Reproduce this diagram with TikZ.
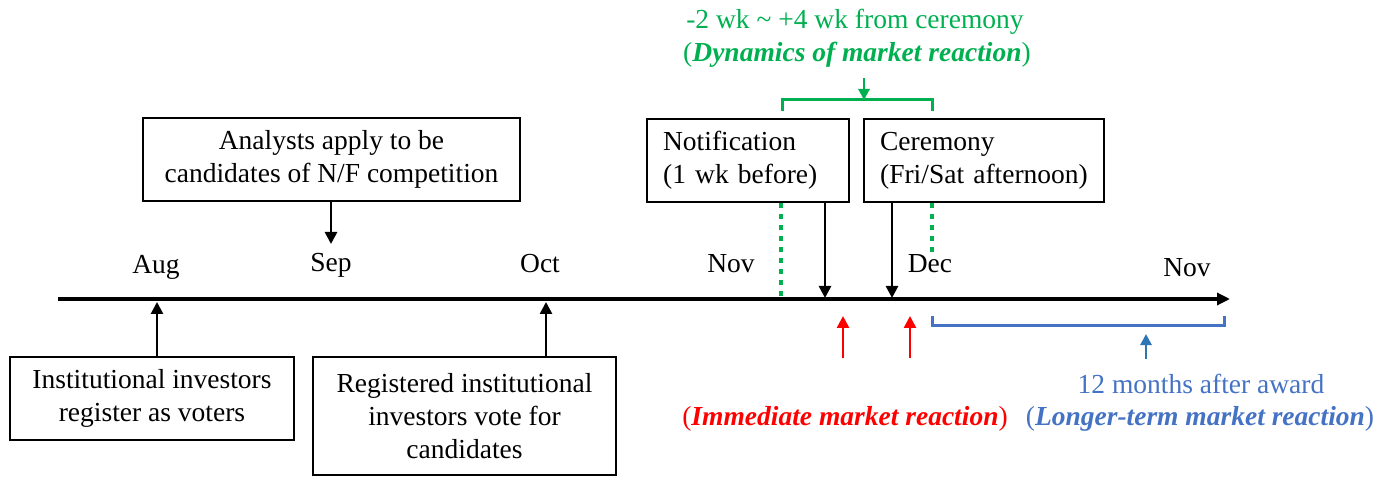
\documentclass[tikz,border=0pt]{standalone}
\usepackage{fontspec}
\setmainfont{Liberation Serif}
\newfontfamily\tnr{Liberation Serif}
\usetikzlibrary{arrows.meta}
\definecolor{mygreen}{RGB}{0,176,80}
\definecolor{myblue}{RGB}{68,114,196}
\definecolor{myarrowblue}{RGB}{46,117,182}
\definecolor{myred}{RGB}{255,0,0}
\begin{document}
\begin{tikzpicture}[x=1pt,y=-1pt,
  every node/.style={font=\tnr\fontsize{27.5}{33}\selectfont, inner sep=0pt},
  box/.style={draw, line width=2.2pt, align=center},
  lbox/.style={draw, line width=2.2pt, align=left, inner xsep=16pt, inner ysep=0pt, anchor=north west, minimum height=83pt},
  arr/.style={line width=2.6pt, -{Triangle[length=12pt,width=12pt]}},
  garr/.style={line width=2.6pt, mygreen, -{Triangle[length=11pt,width=11pt]}},
  rarr/.style={line width=2.6pt, myred, -{Triangle[length=12pt,width=12pt]}},
  barr/.style={line width=2.6pt, myarrowblue, -{Triangle[length=11pt,width=11pt]}},
  gdot/.style={line width=4.5pt, mygreen, dash pattern=on 5pt off 6pt},
  month/.style={anchor=base},
]
\useasboundingbox (0,0) rectangle (1395,478);

% axis
\coordinate (axL) at (58,299);
\coordinate (axR) at (1230,299);
\draw[line width=3.2pt, -{Triangle[length=13pt,width=12pt]}] (axL) -- (axR);

% month labels
\node[month] (mAug) at (156,274) {Aug};
\node[month] (mSep) at (331,272) {Sep};
\node[month] (mOct) at (540,273) {Oct};
\node[month] (mNov) at (731,273) {Nov};
\node[month] (mDec) at (930,273) {Dec};
\node[month] (mNov2) at (1187,277) {Nov};

% top boxes
\node[box, minimum width=377pt, minimum height=83pt] (analysts) at (331.5,159.5)
  {Analysts apply to be\\candidates of N/F competition};
\node[lbox, text width=170pt] (notif) at (646,118) {Notification\\(1 wk before)};
\node[lbox, text width=208pt] (cere) at (863,118) {Ceremony\\(Fri/Sat afternoon)};

% bottom boxes
\node[box, minimum width=284pt, minimum height=83pt] (reg) at (152,398.5)
  {Institutional investors\\register as voters};
\node[box, minimum width=303pt, minimum height=118pt] (vote) at (464.5,416)
  {Registered institutional\\investors vote for\\candidates};

% arrow targets
\coordinate (tSep) at (331,244);
\coordinate (tAug) at (157,302);
\coordinate (tOct) at (546,302);
\coordinate (tNotif) at (825,298);
\coordinate (tCere) at (892,298);

\draw[arr] (analysts.south -| tSep) -- (tSep);
\draw[arr] (reg.north -| tAug) -- (tAug);
\draw[arr] (vote.north -| tOct) -- (tOct);
\draw[arr] (notif.south -| tNotif) -- (tNotif);
\draw[arr] (cere.south -| tCere) -- (tCere);

% green dotted lines and bracket
\coordinate (gL) at (781,299);
\coordinate (gR) at (932,253);
\draw[gdot] (notif.south -| gL) -- (gL);
\draw[gdot] (cere.south -| gR) -- (gR);
\coordinate (bL) at (782,111);
\coordinate (bR) at (932,111);
\coordinate (bTop) at (857,100);
\draw[line width=3pt, mygreen] (bL) -- (bL |- bTop) -- (bR |- bTop) -- (bR);
\coordinate (gA) at (864,100);
\coordinate (gAs) at (864,78);
\draw[garr] (gAs) -- (gA);
\node[text=mygreen] (gt1) at (855,22) {-2 wk \char"007E\ +4 wk from ceremony};
\node[text=mygreen] (gt2) at (857,55) {(\textbf{\textit{Dynamics of market reaction}})};

% red arrows
\coordinate (r1s) at (843,358);
\coordinate (r1e) at (843,316);
\coordinate (r2s) at (910,358);
\coordinate (r2e) at (910,316);
\draw[rarr] (r1s) -- (r1e);
\draw[rarr] (r2s) -- (r2e);
\node[text=myred] (rt) at (845,419) {(\textbf{\textit{Immediate market reaction}})};

% blue bracket
\coordinate (blL) at (932,316);
\coordinate (blR) at (1224,316);
\coordinate (blB) at (1000,326);
\draw[line width=3pt, myblue] (blL) -- (blL |- blB) -- (blR |- blB) -- (blR);
\coordinate (bas) at (1146,359);
\coordinate (bae) at (1146,334);
\draw[barr] (bas) -- (bae);
\node[text=myblue] (bt1) at (1201,384) {12 months after award};
\node[text=myblue] (bt2) at (1200,419) {(\textbf{\textit{Longer-term market reaction}})};
\end{tikzpicture}
\end{document}
